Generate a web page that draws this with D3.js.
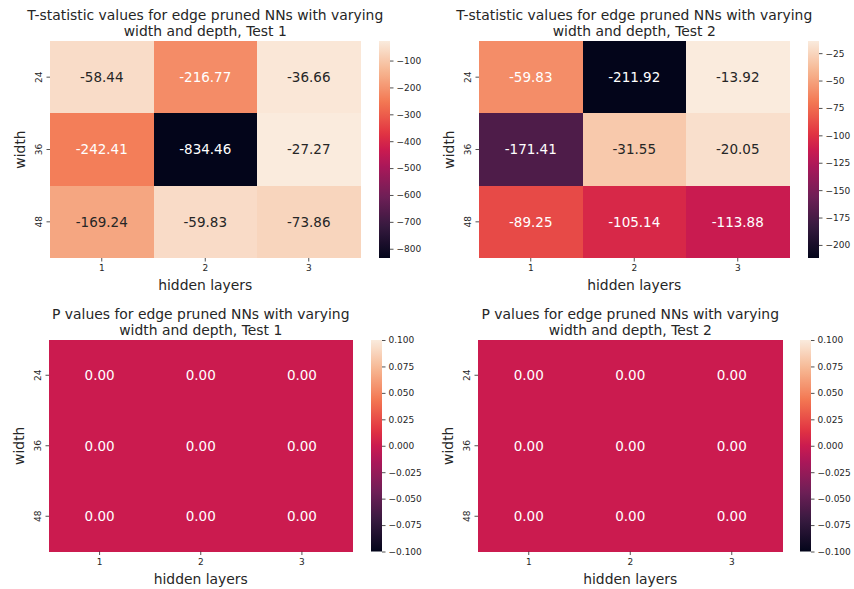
<!DOCTYPE html>
<html>
<head>
<meta charset="utf-8">
<script src="https://cdn.jsdelivr.net/npm/d3@7"></script>
<style>
  html, body { margin: 0; padding: 0; background: #ffffff; }
  svg { display: block; }
  text { font-family: "DejaVu Sans", sans-serif; fill: #262626; }
</style>
</head>
<body>
<svg id="chart" width="854" height="589"></svg>
<script>
// ---------------- DATA ----------------
const hiddenLayers = ["1", "2", "3"];
const widths = ["24", "36", "48"];

const tstatTest1 = [
  [-58.44, -216.77, -36.66],
  [-242.41, -834.46, -27.27],
  [-169.24, -59.83, -73.86]
];
const tstatTest2 = [
  [-59.83, -211.92, -13.92],
  [-171.41, -31.55, -20.05],
  [-89.25, -105.14, -113.88]
];
const pvalTest1 = [
  [0.00, 0.00, 0.00],
  [0.00, 0.00, 0.00],
  [0.00, 0.00, 0.00]
];
const pvalTest2 = [
  [0.00, 0.00, 0.00],
  [0.00, 0.00, 0.00],
  [0.00, 0.00, 0.00]
];

const cbTicksT1 = [-100, -200, -300, -400, -500, -600, -700, -800];
const cbTicksT2 = [-25, -50, -75, -100, -125, -150, -175, -200];
const cbTicksP = [0.100, 0.075, 0.050, 0.025, 0.000, -0.025, -0.050, -0.075, -0.100];

const titles = [
  ["T-statistic values for edge pruned NNs with varying", "width and depth, Test 1"],
  ["T-statistic values for edge pruned NNs with varying", "width and depth, Test 2"],
  ["P values for edge pruned NNs with varying", "width and depth, Test 1"],
  ["P values for edge pruned NNs with varying", "width and depth, Test 2"]
];

// ---------------- COLORMAP (seaborn "rocket") ----------------
const rocketPos = [0, 1/7, 2/7, 3/7, 0.5, 4/7, 5/7, 6/7, 1];
const rocketCol = ["#03051a", "#35193e", "#701f57", "#ad1759", "#cb1b4f", "#e13342", "#f37651", "#f6b48f", "#faebdd"];
const rocket = d3.scaleLinear().domain(rocketPos).range(rocketCol).interpolate(d3.interpolateRgb).clamp(true);

function relLum(c) {
  const rgb = d3.rgb(c);
  const f = v => { v = v / 255; return v <= 0.03928 ? v / 12.92 : Math.pow((v + 0.055) / 1.055, 2.4); };
  return 0.2126 * f(rgb.r) + 0.7152 * f(rgb.g) + 0.0722 * f(rgb.b);
}

// annotation format uses ASCII hyphen (like Python's format)
const hyphenLocale = d3.formatLocale({ decimal: ".", thousands: ",", grouping: [3], currency: ["", ""], minus: "-" });
const annotFmt = hyphenLocale.format(".2f");

const svg = d3.select("#chart");
const BIG = 13.9, SMALL = 9;

const panels = [
  { data: tstatTest1, title: titles[0], ticks: cbTicksT1, fmt: d3.format("d"),
    x0: 50, x1: 360.5, y0: 41, y1: 258, cbx: 379, titleY: 15 },
  { data: tstatTest2, title: titles[1], ticks: cbTicksT2, fmt: d3.format("d"),
    x0: 479, x1: 789.5, y0: 41, y1: 258, cbx: 808, titleY: 15 },
  { data: pvalTest1, title: titles[2], ticks: cbTicksP, fmt: d3.format(".3f"),
    x0: 49, x1: 352.5, y0: 340, y1: 551.5, cbx: 371, titleY: 313.5, vmin: -0.1, vmax: 0.1 },
  { data: pvalTest2, title: titles[3], ticks: cbTicksP, fmt: d3.format(".3f"),
    x0: 478, x1: 782.5, y0: 340, y1: 551.5, cbx: 800, titleY: 313.5, vmin: -0.1, vmax: 0.1 }
];

panels.forEach((p, pi) => {
  const g = svg.append("g");
  const flat = p.data.flat();
  let vmin = p.vmin !== undefined ? p.vmin : d3.min(flat);
  let vmax = p.vmax !== undefined ? p.vmax : d3.max(flat);
  const norm = d3.scaleLinear().domain([vmin, vmax]).range([0, 1]);
  const color = v => rocket(norm(v));

  const x = d3.scaleBand().domain(hiddenLayers).range([p.x0, p.x1]).padding(0);
  const y = d3.scaleBand().domain(widths).range([p.y0, p.y1]).padding(0);

  const cells = [];
  p.data.forEach((row, ri) => row.forEach((v, ci) => cells.push({ r: widths[ri], c: hiddenLayers[ci], v })));

  g.selectAll("rect.cell").data(cells).enter().append("rect")
    .attr("class", "cell")
    .attr("x", d => Math.round(x(d.c))).attr("y", d => Math.round(y(d.r)))
    .attr("width", d => Math.round(x(d.c) + x.bandwidth()) - Math.round(x(d.c)))
    .attr("height", d => Math.round(y(d.r) + y.bandwidth()) - Math.round(y(d.r)))
    .attr("shape-rendering", "crispEdges")
    .attr("fill", d => color(d.v));

  g.selectAll("text.annot").data(cells).enter().append("text")
    .attr("class", "annot")
    .attr("x", d => x(d.c) + x.bandwidth() / 2)
    .attr("y", d => y(d.r) + y.bandwidth() / 2)
    .attr("dy", "0.36em")
    .attr("text-anchor", "middle")
    .style("font-size", "13.5px")
    .style("fill", d => relLum(color(d.v)) > 0.408 ? "#262626" : "#ffffff")
    .text(d => annotFmt(d.v));

  // x axis
  const xa = g.append("g").attr("transform", `translate(0,${p.y1})`)
    .call(d3.axisBottom(x).tickSize(3.5).tickPadding(3.5));
  xa.select(".domain").remove();
  xa.selectAll("line").attr("stroke", "#262626").attr("stroke-width", 0.8);
  xa.selectAll("text").style("font-size", SMALL + "px").style("fill", "#262626")
    .attr("font-family", null);

  // y axis
  const ya = g.append("g").attr("transform", `translate(${p.x0},0)`)
    .call(d3.axisLeft(y).tickSize(3.5).tickPadding(3.5));
  ya.select(".domain").remove();
  ya.selectAll("line").attr("stroke", "#262626").attr("stroke-width", 0.8);
  ya.selectAll("text").style("font-size", SMALL + "px").style("fill", "#262626")
    .attr("font-family", null)
    .attr("x", 0).attr("dy", null).attr("y", 0)
    .attr("text-anchor", "middle")
    .attr("transform", "translate(-8,0) rotate(-90)");

  // axis labels
  g.append("text")
    .attr("x", (p.x0 + p.x1) / 2).attr("y", p.y1 + 27).attr("dy", "0.36em")
    .attr("text-anchor", "middle").style("font-size", BIG + "px")
    .text("hidden layers");
  g.append("text")
    .attr("transform", `translate(${p.x0 - 30},${(p.y0 + p.y1) / 2}) rotate(-90)`)
    .attr("dy", "0.36em")
    .attr("text-anchor", "middle").style("font-size", BIG + "px")
    .text("width");

  // title
  p.title.forEach((line, li) => {
    g.append("text")
      .attr("x", (p.x0 + p.x1) / 2).attr("y", p.titleY + li * 16).attr("dy", "0.36em")
      .attr("text-anchor", "middle").style("font-size", BIG + "px")
      .text(line);
  });

  // colorbar
  const cbw = 11;
  const gradId = "grad" + pi;
  const grad = svg.append("defs").append("linearGradient").attr("id", gradId)
    .attr("x1", "0").attr("y1", "1").attr("x2", "0").attr("y2", "0");
  d3.range(0, 1.0001, 0.02).forEach(t => {
    grad.append("stop").attr("offset", t).attr("stop-color", rocket(t));
  });
  g.append("rect").attr("x", p.cbx).attr("y", p.y0)
    .attr("width", cbw).attr("height", p.y1 - p.y0)
    .attr("fill", `url(#${gradId})`);
  const cs = d3.scaleLinear().domain([vmin, vmax]).range([p.y1, p.y0]);
  const ca = g.append("g").attr("transform", `translate(${p.cbx + cbw},0)`)
    .call(d3.axisRight(cs).tickValues(p.ticks).tickFormat(p.fmt).tickSize(3.5).tickPadding(3));
  ca.select(".domain").remove();
  ca.selectAll("line").attr("stroke", "#262626").attr("stroke-width", 0.8);
  ca.selectAll("text").style("font-size", SMALL + "px").style("fill", "#262626")
    .attr("font-family", null);
});
</script>
</body>
</html>
